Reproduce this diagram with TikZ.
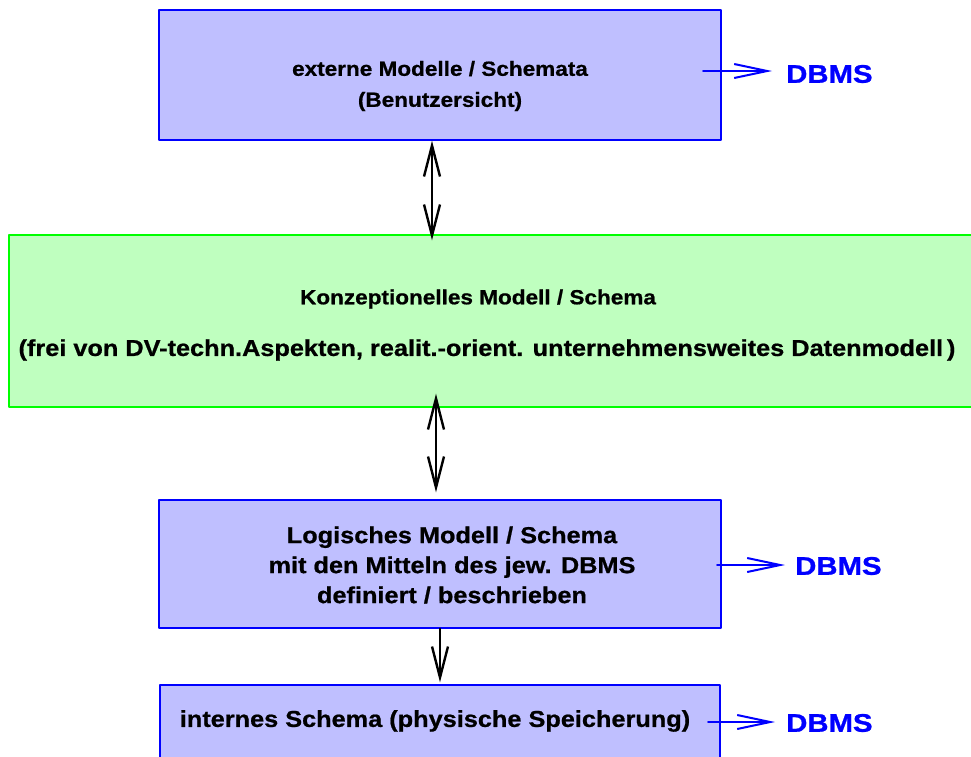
\documentclass[tikz,border=0pt]{standalone}
\usepackage{fontspec}
\newfontfamily\schrift[FakeStretch=1.1,FakeBold=0.8]{Liberation Sans}
\newfontfamily\dbschrift[FakeStretch=1.15,FakeBold=1]{Liberation Sans}
\usetikzlibrary{arrows.meta,calc}

\begin{document}
\begin{tikzpicture}[x=1pt,y=-1pt, font=\schrift\bfseries\fontsize{23}{30}\selectfont, line join=round, line cap=round,
	schicht/.style={draw=blue, fill=blue!25, line width=1.4pt, inner sep=0pt},
	konzept/.style={draw=green, fill=green!25, line width=1.4pt, inner sep=0pt},
	klein/.style={font=\schrift\bfseries\fontsize{20.5}{31}\selectfont},
	dpfeil/.style={{Straight Barb[length=31pt,width=16pt]}-{Straight Barb[length=31pt,width=16pt]}, line width=2.4pt},
	pfeil/.style={-{Straight Barb[length=31pt,width=16pt]}, line width=2.4pt},
	dbpfeil/.style={-{Straight Barb[length=33pt,width=14pt]}, draw=blue, line width=2pt},
	dbms/.style={text=blue, anchor=west, inner sep=0pt, font=\dbschrift\bfseries\fontsize{25.5}{26}\selectfont}]
	\useasboundingbox (0,0) rectangle (971,756);
	\def \b{562} %Breite der blauen Kaesten
	% Kaesten
	\node[schicht, minimum width=\b, minimum height=130] (ext) at (440,75) {};
	\node[konzept, minimum width=966, minimum height=172] (konz) at (492,321) {};
	\node[schicht, minimum width=\b, minimum height=128] (log) at (440,564) {};
	\node[schicht, minimum width=560, minimum height=110] (int) at (440,740) {};
	% Texte
	\node[klein, align=center] (extT) at (440,86) {externe Modelle / Schemata\\(Benutzersicht)};
	\node[klein] (konzT) at (478,299) {Konzeptionelles Modell / Schema};
	\node (konzU) at (487,350) {(frei von DV-techn.Aspekten, realit.-orient. unternehmensweites Datenmodell\,)};
	\node[align=center] (logT) at (452,565) {Logisches Modell / Schema\\mit den Mitteln des jew. DBMS\\definiert / beschrieben};
	\node (intT) at (435,721) {internes Schema (physische Speicherung)};
	% DBMS
	\node[dbms] (db1) at (786,74) {DBMS};
	\node[dbms] (db2) at (795,566) {DBMS};
	\node[dbms] (db3) at (786,723) {DBMS};
	\coordinate (e1) at (703,71);
	\coordinate (e2) at (717,565);
	\coordinate (e3) at (708,722);
	\draw[dbpfeil] (e1) -- ($(db1.west |- e1)+(-14,0)$);
	\draw[dbpfeil] (e2) -- ($(db2.west |- e2)+(-10,0)$);
	\draw[dbpfeil] (e3) -- ($(db3.west |- e3)+(-11,0)$);
	% Verbindungen
	\draw[dpfeil] ($(ext.south)+(-8,0)$) -- ($(ext.south |- konz.north)+(-8,6)$);
	\draw[dpfeil] ($(log.north |- konz.south)+(-4,-14)$) -- ($(log.north)+(-4,-7)$);
	\draw[pfeil] (log.south) -- ($(int.north)+(0,-2)$);
\end{tikzpicture}
\end{document}
